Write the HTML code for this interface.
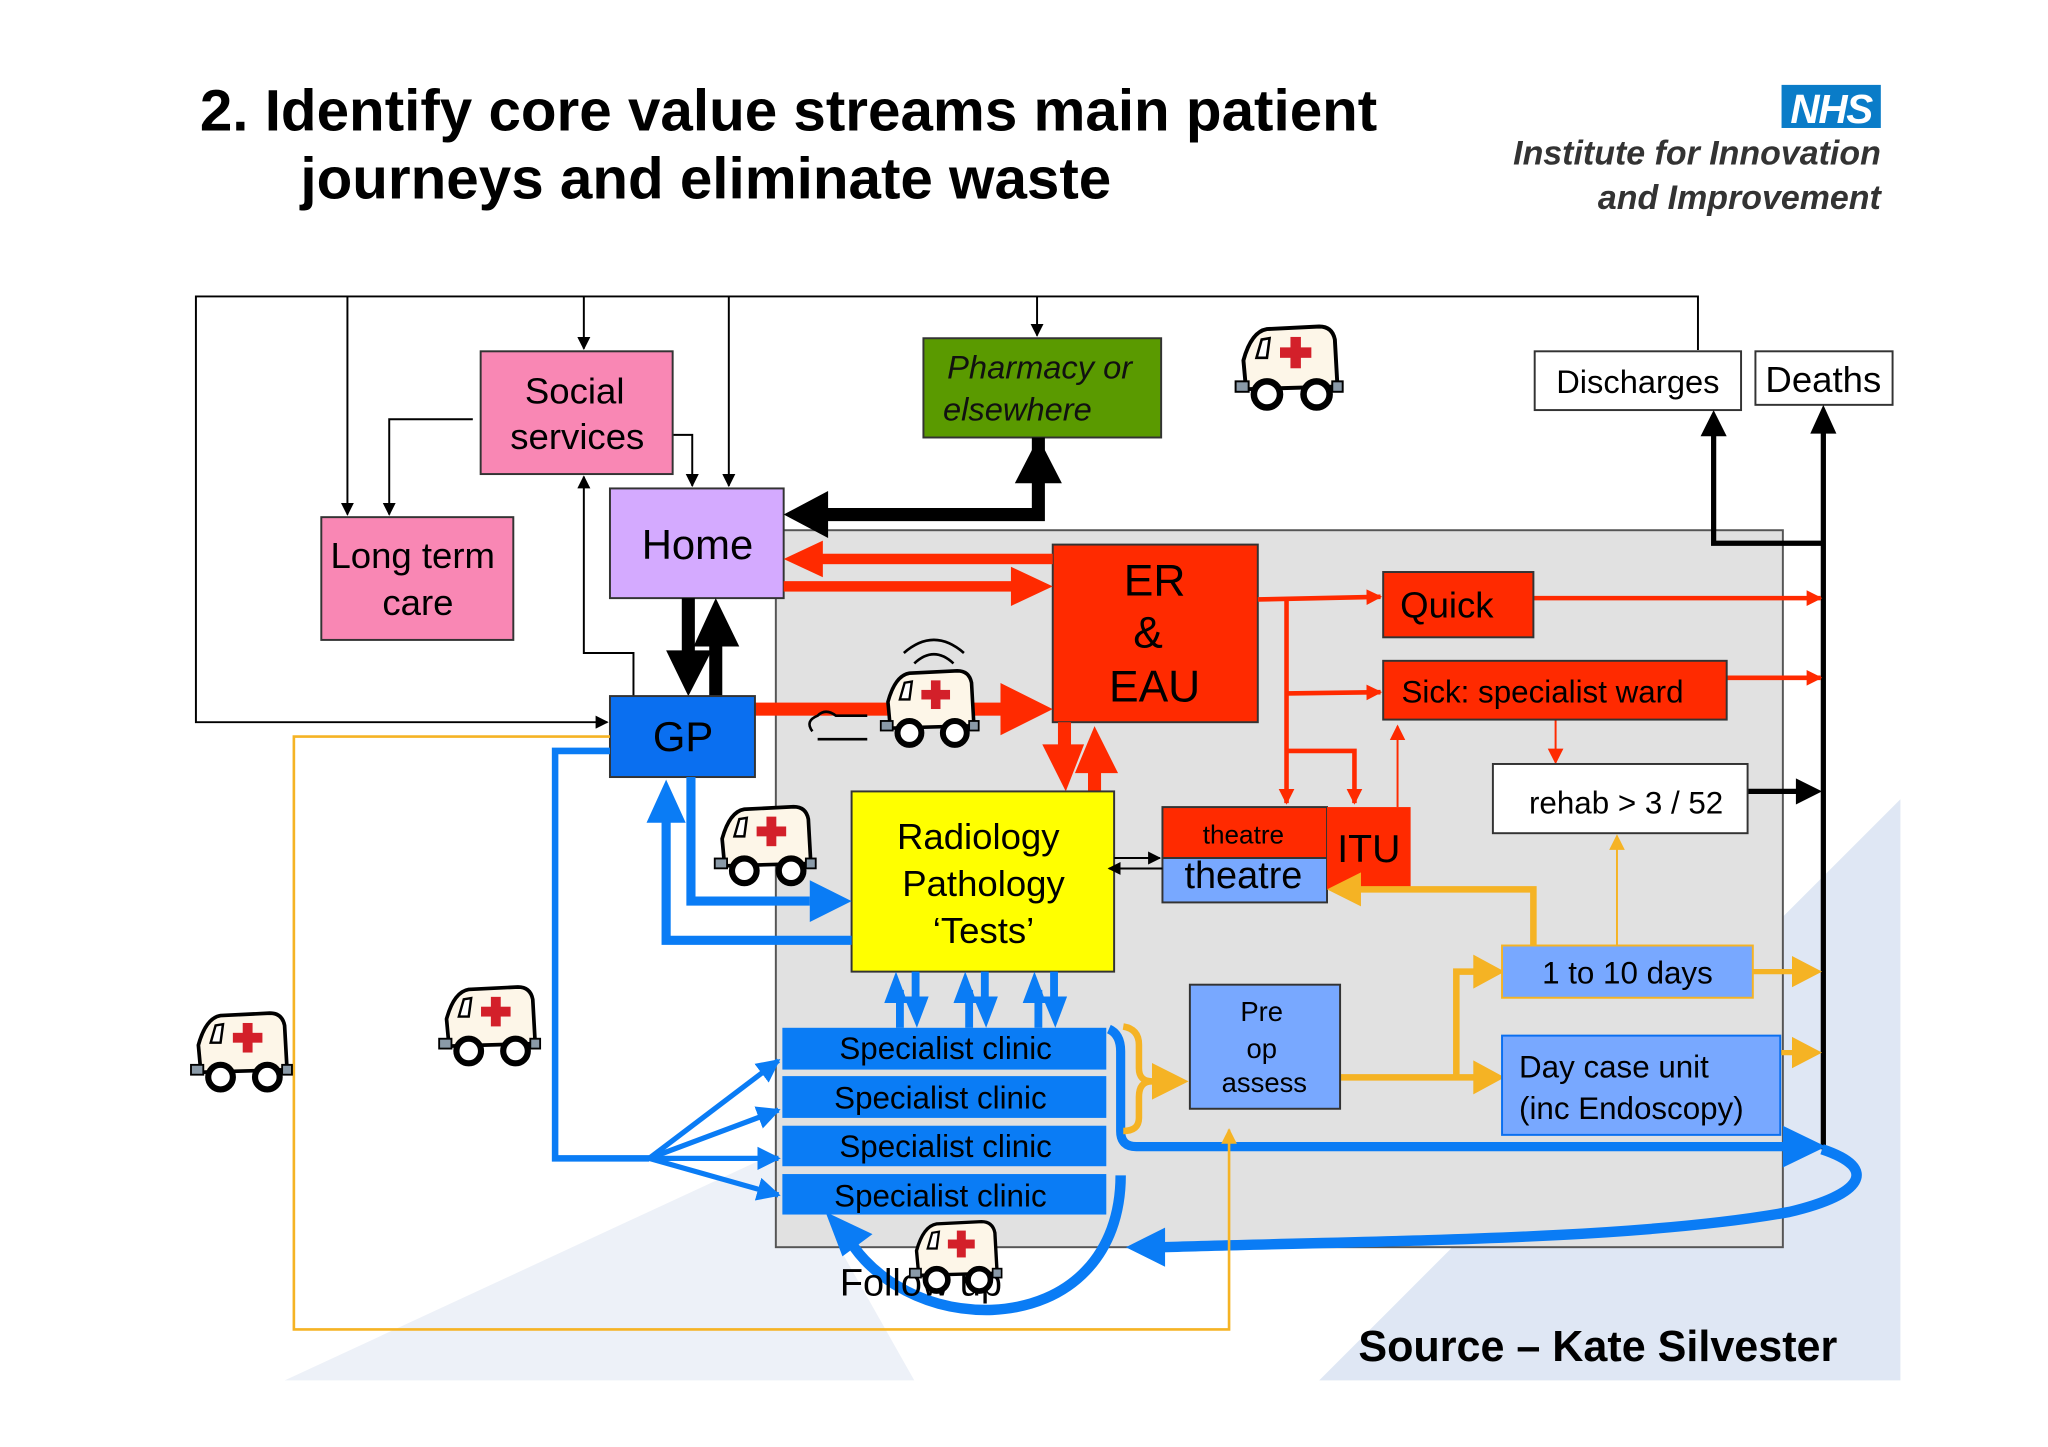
<!DOCTYPE html>
<html><head><meta charset="utf-8"><style>
html,body{margin:0;padding:0;background:#fff;}
svg{display:block;}
text{font-family:"Liberation Sans",sans-serif;}
</style></head><body>
<svg width="2048" height="1447" viewBox="0 0 1568 1108" preserveAspectRatio="none" xmlns="http://www.w3.org/2000/svg">
<defs>
<marker id="ak" viewBox="0 0 10 10" refX="9" refY="5" markerWidth="10" markerHeight="10" markerUnits="userSpaceOnUse" orient="auto"><path d="M0,0L10,5L0,10z" fill="#000"/></marker>
<marker id="ar" viewBox="0 0 10 10" refX="9" refY="5" markerWidth="12" markerHeight="14" markerUnits="userSpaceOnUse" orient="auto"><path d="M0,0L10,5L0,10z" fill="#ff2a00"/></marker>
<marker id="ab" viewBox="0 0 10 10" refX="9" refY="5" markerWidth="4.5" markerHeight="5" orient="auto"><path d="M0,0L10,5L0,10z" fill="#0a7cf5"/></marker>
<marker id="aot" viewBox="0 0 10 10" refX="9" refY="5" markerWidth="12" markerHeight="14" markerUnits="userSpaceOnUse" orient="auto"><path d="M0,0L10,5L0,10z" fill="#f5b324"/></marker>
<symbol id="amb" viewBox="0 0 90 70">
<path d="M14,52 L12,30 Q18,8 30,6 L70,4 Q80,4 82,14 L84,50 Z" fill="#fdf6e8" stroke="#000" stroke-width="3"/>
<path d="M22,28 L26,14 L32,13 L30,28Z" fill="#fff" stroke="#000" stroke-width="2"/>
<rect x="48" y="12" width="8" height="24" fill="#d3202a"/><rect x="40" y="20" width="24" height="8" fill="#d3202a"/>
<rect x="6" y="46" width="10" height="8" fill="#8a9aa8" stroke="#000" stroke-width="1.5"/>
<rect x="80" y="46" width="8" height="8" fill="#8a9aa8" stroke="#000" stroke-width="1.5"/>
<circle cx="30" cy="56" r="10" fill="#fff" stroke="#000" stroke-width="5"/>
<circle cx="68" cy="56" r="10" fill="#fff" stroke="#000" stroke-width="5"/>
</symbol>
</defs>

<polygon points="218,1057 1455,1057 1455,612 1010,1057" fill="#dfe7f4"/>
<polygon points="218,1057 700,1057 600,880" fill="#edf1f8"/>
<rect x="594" y="406" width="771" height="549" fill="#e1e1e1" stroke="#555" stroke-width="1.5"/>

<text x="153" y="100" font-size="44.7" font-weight="bold">2. Identify core value streams main patient</text>
<text x="230" y="152" font-size="44.7" font-weight="bold">journeys and eliminate waste</text>
<rect x="1364" y="65" width="76" height="33" fill="#0a7cc8"/>
<text x="1402" y="94" font-size="31" font-weight="bold" font-style="italic" fill="#fff" text-anchor="middle" letter-spacing="-1">NHS</text>
<text x="1440" y="126" font-size="26" font-weight="bold" font-style="italic" fill="#333" text-anchor="end">Institute for Innovation</text>
<text x="1440" y="160" font-size="26" font-weight="bold" font-style="italic" fill="#333" text-anchor="end">and Improvement</text>

<g stroke="#000" stroke-width="1.5" fill="none">
<path d="M1300,268 L1300,227 L150,227 L150,553 L465,553" marker-end="url(#ak)"/>
<path d="M266,227 L266,394" marker-end="url(#ak)"/>
<path d="M447,227 L447,267" marker-end="url(#ak)"/>
<path d="M558,227 L558,372" marker-end="url(#ak)"/>
<path d="M794,227 L794,257" marker-end="url(#ak)"/>
<path d="M362,321 L298,321 L298,394" marker-end="url(#ak)"/>
<path d="M515,333 L530,333 L530,372" marker-end="url(#ak)"/>
<path d="M485,533 L485,500 L447,500 L447,365" marker-end="url(#ak)"/>
</g>

<rect x="368" y="269" width="147" height="94" fill="#f987b4" stroke="#333" stroke-width="1.5"/>
<text x="440" y="309" font-size="28" text-anchor="middle">Social</text>
<text x="442" y="344" font-size="28" text-anchor="middle">services</text>
<rect x="246" y="396" width="147" height="94" fill="#f987b4" stroke="#333" stroke-width="1.5"/>
<text x="316" y="435" font-size="28" text-anchor="middle">Long term</text>
<text x="320" y="471" font-size="28" text-anchor="middle">care</text>
<rect x="467" y="374" width="133" height="84" fill="#d4aaff" stroke="#333" stroke-width="1.5"/>
<text x="534" y="428" font-size="32" text-anchor="middle">Home</text>
<rect x="707" y="259" width="182" height="76" fill="#5a9a00" stroke="#333" stroke-width="1.5"/>
<text x="796" y="290" font-size="25" font-style="italic" text-anchor="middle" fill="#111">Pharmacy or</text>
<text x="722" y="322" font-size="25" font-style="italic" fill="#111">elsewhere</text>
<rect x="1175" y="269" width="158" height="45" fill="#fff" stroke="#333" stroke-width="1.5"/>
<text x="1254" y="301" font-size="25" text-anchor="middle">Discharges</text>
<rect x="1344" y="269" width="105" height="41" fill="#fff" stroke="#333" stroke-width="1.5"/>
<text x="1396" y="300" font-size="28" text-anchor="middle">Deaths</text>

<g fill="#000">
<path d="M795,335 L795,394 L630,394" stroke="#000" stroke-width="10" fill="none"/>
<polygon points="600,394 634,376 634,412"/>
<polygon points="795,335 777,370 813,370"/>
<rect x="522" y="458" width="10" height="45"/><polygon points="510,498 545,498 527,533"/>
<rect x="543" y="490" width="10" height="43"/><polygon points="531,495 566,495 548,458"/>
</g>
<g stroke="#000" stroke-width="4" fill="none">
<path d="M1396,416 L1312,416 L1312,330"/>
<path d="M1396,880 L1396,330"/>
<path d="M1338,606 L1378,606"/>
</g>
<polygon points="1312,314 1302,334 1322,334" fill="#000"/>
<polygon points="1396,310 1386,332 1406,332" fill="#000"/>
<polygon points="1395,606 1375,596 1375,616" fill="#000"/>

<rect x="806" y="417" width="157" height="136" fill="#ff2a00" stroke="#333" stroke-width="1.5"/>
<text x="884" y="456" font-size="34" text-anchor="middle">ER</text>
<text x="879" y="496" font-size="34" text-anchor="middle">&amp;</text>
<text x="884" y="537" font-size="34" text-anchor="middle">EAU</text>

<g fill="#ff2a00">
<rect x="628" y="424" width="178" height="8"/><polygon points="600,428 630,414 630,442"/>
<rect x="600" y="445" width="180" height="8"/><polygon points="806,449 774,434 774,464"/>
<rect x="574" y="538" width="200" height="10"/><polygon points="806,543 766,523 766,563"/>
<rect x="810" y="553" width="10" height="20"/><polygon points="798,570 830,570 816,606"/>
<rect x="833" y="586" width="10" height="20"/><polygon points="823,592 856,592 838,556"/>
</g>
<g stroke="#ff2a00" stroke-width="3.5" fill="none">
<path d="M963,459 L1057,457" marker-end="url(#ar)"/>
<path d="M985,459 L985,615" marker-end="url(#ar)"/>
<path d="M985,531 L1057,530" marker-end="url(#ar)"/>
<path d="M985,575 L1037,575 L1037,615" marker-end="url(#ar)"/>
<path d="M1174,458 L1394,458" marker-end="url(#ar)"/>
<path d="M1322,519 L1394,519" marker-end="url(#ar)"/>
</g>
<g stroke="#ff2a00" stroke-width="1.5" fill="none">
<path d="M1070,618 L1070,556" marker-end="url(#ar)"/>
<path d="M1191,551 L1191,584" marker-end="url(#ar)"/>
</g>

<rect x="1059" y="438" width="115" height="50" fill="#ff2a00" stroke="#333" stroke-width="1.5"/>
<text x="1072" y="473" font-size="28">Quick</text>
<rect x="1059" y="506" width="263" height="45" fill="#ff2a00" stroke="#333" stroke-width="1.5"/>
<text x="1073" y="538" font-size="24">Sick: specialist ward</text>
<rect x="1143" y="585" width="195" height="53" fill="#fff" stroke="#333" stroke-width="1.5"/>
<text x="1245" y="623" font-size="24" text-anchor="middle">rehab &gt; 3 / 52</text>

<rect x="890" y="618" width="126" height="39" fill="#ff2a00" stroke="#333" stroke-width="1.5"/>
<text x="952" y="646" font-size="20" text-anchor="middle">theatre</text>
<rect x="890" y="657" width="126" height="34" fill="#78a8ff" stroke="#333" stroke-width="1.5"/>
<text x="952" y="680" font-size="29" text-anchor="middle">theatre</text>
<rect x="1016" y="618" width="64" height="63" fill="#ff2a00"/>
<text x="1048" y="660" font-size="30" text-anchor="middle">ITU</text>

<rect x="652" y="606" width="201" height="138" fill="#ffff00" stroke="#333" stroke-width="1.5"/>
<text x="749" y="650" font-size="28" text-anchor="middle">Radiology</text>
<text x="753" y="686" font-size="28" text-anchor="middle">Pathology</text>
<text x="753" y="722" font-size="28" text-anchor="middle">‘Tests’</text>
<g stroke="#000" stroke-width="1.5" fill="none">
<path d="M853,657 L888,657" marker-end="url(#ak)"/>
<path d="M890,665 L849,665" marker-end="url(#ak)"/>
</g>

<rect x="467" y="533" width="111" height="62" fill="#0a6ff0" stroke="#333" stroke-width="1.5"/>
<text x="523" y="575" font-size="32" text-anchor="middle">GP</text>

<g stroke="#0a7cf5" fill="none">
<path d="M529,595 L529,690 L620,690" stroke-width="7"/>
<path d="M652,720 L510,720 L510,625" stroke-width="7"/>
<path d="M467,575 L425,575 L425,887 L497,887" stroke-width="5"/>
<path d="M497,887 L596,812" stroke-width="4" marker-end="url(#ab)"/>
<path d="M497,887 L596,850" stroke-width="4" marker-end="url(#ab)"/>
<path d="M497,887 L596,887" stroke-width="4" marker-end="url(#ab)"/>
<path d="M497,887 L596,915" stroke-width="4" marker-end="url(#ab)"/>
<path d="M849,788 Q858,792 858,805 L858,866 Q858,878 870,878 L1375,878" stroke-width="7"/>
<path d="M1395,880 C1440,895 1425,915 1370,928 C1250,950 1050,950 890,955" stroke-width="8"/>
<path d="M858,900 C858,960 820,1000 760,1003 C700,1005 660,970 648,945" stroke-width="8"/>
</g>
<g fill="#0a7cf5">
<polygon points="652,690 620,674 620,706"/>
<polygon points="510,597 495,630 525,630"/>
<polygon points="1398,878 1365,862 1365,894"/>
<polygon points="862,955 892,940 892,970"/>
<polygon points="632,928 668,945 645,962"/>
<g id="dbl"><rect x="686" y="758" width="6" height="29"/><polygon points="677,768 695,768 686,744"/><rect x="698" y="744" width="6" height="25"/><polygon points="692,763 711,763 702,787"/></g>
<use href="#dbl" x="53"/><use href="#dbl" x="106"/>
</g>

<g fill="#0a7cf5">
<rect x="599" y="787" width="248" height="32"/>
<rect x="599" y="824" width="248" height="32"/>
<rect x="599" y="862" width="248" height="31"/>
<rect x="599" y="899" width="248" height="31"/>
</g>
<g font-size="24" text-anchor="middle">
<text x="724" y="811">Specialist clinic</text>
<text x="720" y="849">Specialist clinic</text>
<text x="724" y="886">Specialist clinic</text>
<text x="720" y="924">Specialist clinic</text>
</g>

<g stroke="#f5b324" fill="none">
<path d="M467,564 L225,564 L225,1018 L941,1018 L941,865" stroke-width="2" marker-end="url(#aot)"/>
<path d="M860,786 Q872,788 872,800 L872,818 Q872,828 882,828 L895,828 M882,828 Q872,828 872,840 L872,856 Q872,866 860,866" stroke-width="5"/>
<path d="M1026,825 L1130,825 M1115,825 L1115,744 L1130,744" stroke-width="5"/>
<path d="M1174,724 L1174,681 L1040,681" stroke-width="5"/>
<path d="M1342,744 L1378,744" stroke-width="4"/>
<path d="M1363,806 L1378,806" stroke-width="4"/>
<path d="M1238,724 L1238,640" stroke-width="1.5" marker-end="url(#aot)"/>
</g>
<g fill="#f5b324">
<polygon points="910,828 882,814 882,842"/>
<polygon points="1152,825 1128,812 1128,838"/>
<polygon points="1152,744 1128,731 1128,757"/>
<polygon points="1016,681 1042,668 1042,694"/>
<polygon points="1395,744 1372,732 1372,756"/>
<polygon points="1395,806 1372,794 1372,818"/>
</g>

<rect x="911" y="754" width="115" height="95" fill="#78a8ff" stroke="#333" stroke-width="1.5"/>
<text x="966" y="782" font-size="21" text-anchor="middle">Pre</text>
<text x="966" y="810" font-size="21" text-anchor="middle">op</text>
<text x="968" y="836" font-size="21" text-anchor="middle">assess</text>
<rect x="1150" y="724" width="192" height="40" fill="#78a8ff" stroke="#f5b324" stroke-width="1.5"/>
<text x="1246" y="753" font-size="24" text-anchor="middle">1 to 10 days</text>
<rect x="1150" y="793" width="213" height="76" fill="#78a8ff" stroke="#0a6ff0" stroke-width="1.5"/>
<text x="1163" y="825" font-size="24">Day case unit</text>
<text x="1163" y="857" font-size="24">(inc Endoscopy)</text>

<use href="#amb" x="940" y="246" width="90" height="70"/>
<use href="#amb" x="665" y="510" width="90" height="64"/>
<path d="M622,560 q-6,-8 4,-12 q6,-6 14,0 l24,0 M626,566 l38,0" stroke="#000" stroke-width="2" fill="none"/>
<path d="M700,508 q15,-14 30,0 M692,500 q23,-20 46,0" stroke="#000" stroke-width="2" fill="none"/>
<use href="#amb" x="541" y="614" width="86" height="66"/>
<use href="#amb" x="330" y="752" width="86" height="66"/>
<use href="#amb" x="140" y="772" width="86" height="66"/>
<text x="643" y="992" font-size="29">Follow up</text>
<use href="#amb" x="690" y="932" width="80" height="60"/>

<text x="1040" y="1042" font-size="33" font-weight="bold">Source – Kate Silvester</text>
</svg>
</body></html>
